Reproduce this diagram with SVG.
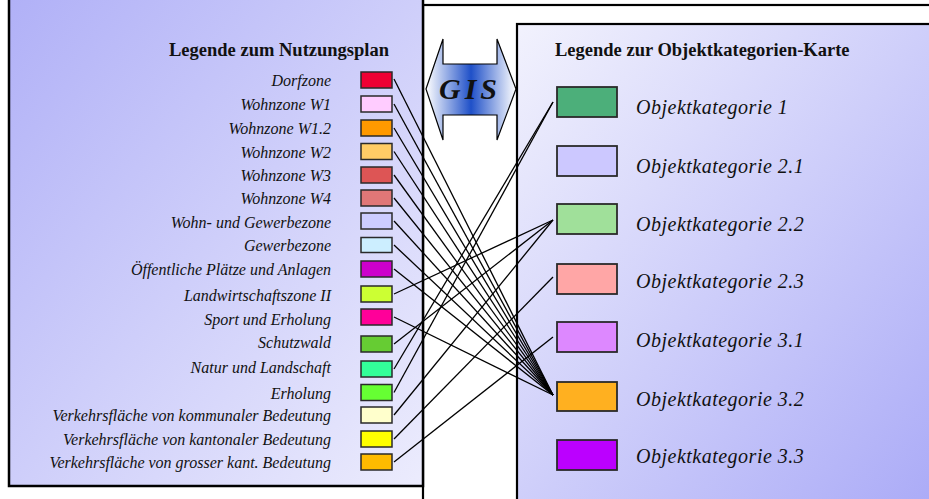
<svg xmlns="http://www.w3.org/2000/svg" width="929" height="499" viewBox="0 0 929 499">
<defs>
<linearGradient id="gl" x1="0" y1="0" x2="1" y2="1">
<stop offset="0" stop-color="#b0b0f7"/>
<stop offset="1" stop-color="#ececfd"/>
</linearGradient>
<linearGradient id="gr" x1="0" y1="0" x2="1" y2="1">
<stop offset="0" stop-color="#f2f2fd"/>
<stop offset="1" stop-color="#aaaaf7"/>
</linearGradient>
<linearGradient id="ga" x1="0" y1="0" x2="1" y2="0">
<stop offset="0" stop-color="#ffffff"/>
<stop offset="0.5" stop-color="#1f50c8"/>
<stop offset="1" stop-color="#ffffff"/>
</linearGradient>
<style>
.title{font-family:"Liberation Serif",serif;font-weight:bold;font-size:18.5px;fill:#111}
.ll{font-family:"Liberation Serif",serif;font-style:italic;font-size:16px;fill:#111;text-anchor:end}
.rl{font-family:"Liberation Serif",serif;font-style:italic;font-size:20px;letter-spacing:0.5px;fill:#111}
.sb{stroke:#2a2a2a;stroke-width:1.5}
.rb{stroke:#2a2a2a;stroke-width:1.8}
.con line{stroke:#000;stroke-width:1.3}
</style>
</defs>
<rect x="423" y="5" width="520" height="510" fill="#ffffff" stroke="#000" stroke-width="2.2"/>
<g id="left-panel">
<rect x="9" y="-10" width="414" height="496" fill="url(#gl)" stroke="#000" stroke-width="2.5"/>
<text class="title" x="389" y="56" text-anchor="end">Legende zum Nutzungsplan</text>
</g>
<g id="right-panel">
<rect x="517" y="24" width="420" height="490" fill="url(#gr)" stroke="#000" stroke-width="2.2"/>
<text class="title" x="555" y="56">Legende zur Objektkategorien-Karte</text>
</g>
<g id="gis">
<polygon points="426,89 443,39 443,64 497,64 497,39 516,89 497,140 497,115 443,115 443,140" fill="url(#ga)" stroke="#000" stroke-width="1.2"/>
<text x="470" y="99" text-anchor="middle" font-family="Liberation Serif,serif" font-weight="bold" font-style="italic" font-size="30" letter-spacing="4" fill="#111">GIS</text>
</g>
<g id="l-dorfzone"><rect class="sb" x="361" y="72" width="31" height="16" fill="#ee0033"/><text class="ll" x="331" y="86">Dorfzone</text></g>
<g id="l-w1"><rect class="sb" x="361" y="96" width="31" height="16" fill="#ffccff"/><text class="ll" x="331" y="110">Wohnzone W1</text></g>
<g id="l-w12"><rect class="sb" x="361" y="120" width="31" height="16" fill="#ff9900"/><text class="ll" x="331" y="134">Wohnzone W1.2</text></g>
<g id="l-w2"><rect class="sb" x="361" y="143.5" width="31" height="16" fill="#ffcc66"/><text class="ll" x="331" y="157.5">Wohnzone W2</text></g>
<g id="l-w3"><rect class="sb" x="361" y="167" width="31" height="16" fill="#dd5555"/><text class="ll" x="331" y="181">Wohnzone W3</text></g>
<g id="l-w4"><rect class="sb" x="361" y="190" width="31" height="16" fill="#e07777"/><text class="ll" x="331" y="204">Wohnzone W4</text></g>
<g id="l-wg"><rect class="sb" x="361" y="213" width="31" height="16" fill="#ccccff"/><text class="ll" x="331" y="228">Wohn- und Gewerbezone</text></g>
<g id="l-gewerbe"><rect class="sb" x="361" y="237.5" width="31" height="15" fill="#cceeff"/><text class="ll" x="331" y="251">Gewerbezone</text></g>
<g id="l-oeff"><rect class="sb" x="361" y="261" width="31" height="16" fill="#cc00cc"/><text class="ll" x="331" y="275">Öffentliche Plätze und Anlagen</text></g>
<g id="l-landw"><rect class="sb" x="361" y="286" width="31" height="16" fill="#ccff33"/><text class="ll" x="331" y="300.5">Landwirtschaftszone II</text></g>
<g id="l-sport"><rect class="sb" x="361" y="309" width="31" height="16" fill="#ff0099"/><text class="ll" x="331" y="324.5">Sport und Erholung</text></g>
<g id="l-schutzwald"><rect class="sb" x="361" y="336" width="31" height="16" fill="#66cc33"/><text class="ll" x="331" y="348">Schutzwald</text></g>
<g id="l-natur"><rect class="sb" x="361" y="361" width="31" height="16" fill="#33ff99"/><text class="ll" x="331" y="373">Natur und Landschaft</text></g>
<g id="l-erholung"><rect class="sb" x="361" y="384.5" width="31" height="16" fill="#66ff33"/><text class="ll" x="331" y="398.5">Erholung</text></g>
<g id="l-vk"><rect class="sb" x="361" y="407" width="31" height="16" fill="#ffffcc"/><text class="ll" x="331" y="421">Verkehrsfläche von kommunaler Bedeutung</text></g>
<g id="l-vkant"><rect class="sb" x="361" y="431" width="31" height="16" fill="#ffff00"/><text class="ll" x="331" y="445">Verkehrsfläche von kantonaler Bedeutung</text></g>
<g id="l-vgross"><rect class="sb" x="361" y="454" width="31" height="16" fill="#ffbb00"/><text class="ll" x="331" y="468">Verkehrsfläche von grosser kant. Bedeutung</text></g>
<g id="r-ok1"><rect class="rb" x="557" y="87" width="60" height="30" fill="#4caf7a"/><text class="rl" x="636" y="114">Objektkategorie 1</text></g>
<g id="r-ok21"><rect class="rb" x="557" y="146" width="60" height="30" fill="#ccc8ff"/><text class="rl" x="636" y="173">Objektkategorie 2.1</text></g>
<g id="r-ok22"><rect class="rb" x="557" y="204" width="60" height="30" fill="#a0e09a"/><text class="rl" x="636" y="231">Objektkategorie 2.2</text></g>
<g id="r-ok23"><rect class="rb" x="557" y="264" width="60" height="30" fill="#ffa6a6"/><text class="rl" x="636" y="288">Objektkategorie 2.3</text></g>
<g id="r-ok31"><rect class="rb" x="557" y="322" width="60" height="30" fill="#dd88ff"/><text class="rl" x="636" y="347">Objektkategorie 3.1</text></g>
<g id="r-ok32"><rect class="rb" x="557" y="382" width="60" height="29" fill="#ffb020"/><text class="rl" x="636" y="406">Objektkategorie 3.2</text></g>
<g id="r-ok33"><rect class="rb" x="557" y="440" width="60" height="30" fill="#bb00ff"/><text class="rl" x="636" y="463">Objektkategorie 3.3</text></g>
<g id="connectors" class="con">
<line x1="394" y1="79" x2="553" y2="395"/>
<line x1="394" y1="104" x2="553" y2="395"/>
<line x1="394" y1="128" x2="553" y2="395"/>
<line x1="394" y1="151.5" x2="553" y2="395"/>
<line x1="394" y1="175" x2="553" y2="395"/>
<line x1="394" y1="198" x2="553" y2="395"/>
<line x1="394" y1="221" x2="553" y2="395"/>
<line x1="394" y1="245" x2="553" y2="395"/>
<line x1="394" y1="269" x2="553" y2="395"/>
<line x1="394" y1="317" x2="553" y2="395"/>
<line x1="394" y1="294" x2="553" y2="220"/>
<line x1="394" y1="344" x2="553" y2="220"/>
<line x1="394" y1="415" x2="553" y2="220"/>
<line x1="394" y1="369" x2="553" y2="102"/>
<line x1="394" y1="392.5" x2="553" y2="102"/>
<line x1="394" y1="439" x2="553" y2="277"/>
<line x1="394" y1="462" x2="553" y2="337"/>
</g>
</svg>
